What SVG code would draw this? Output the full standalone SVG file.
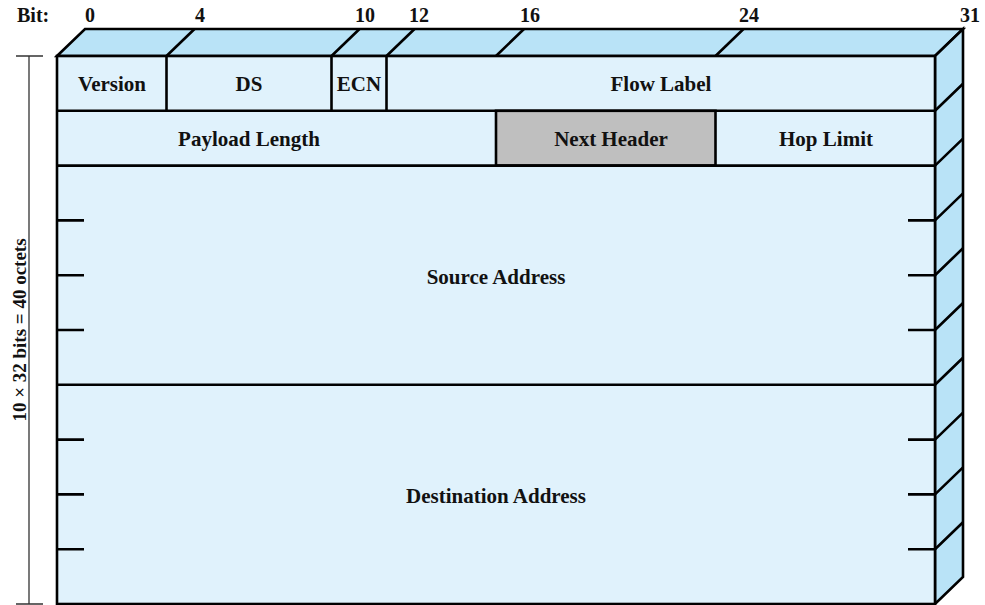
<svg xmlns="http://www.w3.org/2000/svg" width="985" height="605" viewBox="0 0 985 605">
<style>
.face{fill:#b9e3f7;stroke:#000;stroke-width:2.6;stroke-linejoin:miter}
.front{fill:#e0f2fc;stroke:#000;stroke-width:2.6}
.ln{stroke:#000;stroke-width:2.6;fill:none}
.gray{fill:#bfbfbf;stroke:#000;stroke-width:2.6}
.dim{stroke:#333;stroke-width:1.3;fill:none}
text{font-family:"Liberation Serif","Times New Roman",serif;font-weight:bold;font-size:21px;fill:#111}
.c{text-anchor:middle}
</style>
<rect width="985" height="605" fill="#fff"/>
<g id="bit-labels">
<text x="17" y="22" style="font-size:20px">Bit:</text>
<text x="85" y="22" style="font-size:20px">0</text>
<text x="195" y="22" style="font-size:20px">4</text>
<text x="355" y="22" style="font-size:20px">10</text>
<text x="409" y="22" style="font-size:20px">12</text>
<text x="520" y="22" style="font-size:20px">16</text>
<text x="739" y="22" style="font-size:20px">24</text>
<text x="960" y="22" style="font-size:20px">31</text>
</g>
<g id="top-face">
<polygon class="face" points="57,56 85,29 963,29 935,56"/>
<path class="ln" d="M166.5,56 L194.5,29 M331.5,56 L359.5,29 M386.5,56 L414.5,29 M496,56 L524,29 M715.5,56 L743.5,29"/>
</g>
<g id="side-face">
<polygon class="face" points="935,56 963,29 963,577 935,604"/>
<path class="ln" d="M935,110.8 l28,-27 M935,165.6 l28,-27 M935,220.4 l28,-27 M935,275.2 l28,-27 M935,330 l28,-27 M935,384.8 l28,-27 M935,439.6 l28,-27 M935,494.4 l28,-27 M935,549.2 l28,-27"/>
</g>
<g id="front-face">
<rect class="front" x="57" y="56" width="878" height="548"/>
</g>
<g id="version"><text class="c" x="112" y="91">Version</text></g>
<g id="ds"><path class="ln" d="M166.5,56 V110.8"/><text class="c" x="249" y="91">DS</text></g>
<g id="ecn"><path class="ln" d="M331.5,56 V110.8 M386.5,56 V110.8"/><text class="c" x="359" y="91">ECN</text></g>
<g id="flow-label"><text class="c" x="661" y="91">Flow Label</text></g>
<g id="payload-length"><path class="ln" d="M57,110.8 H935"/><text class="c" x="249" y="146">Payload Length</text></g>
<g id="next-header"><rect class="gray" x="496" y="110.8" width="219.5" height="54.8"/><text class="c" x="611" y="146">Next Header</text></g>
<g id="hop-limit"><text class="c" x="826" y="146">Hop Limit</text></g>
<g id="source-address"><path class="ln" d="M57,165.6 H935"/>
<path class="ln" d="M57,220.4 h27 M57,275.2 h27 M57,330 h27 M908,220.4 h27 M908,275.2 h27 M908,330 h27"/>
<text class="c" x="496" y="284">Source Address</text></g>
<g id="destination-address"><path class="ln" d="M57,384.8 H935"/>
<path class="ln" d="M57,439.6 h27 M57,494.4 h27 M57,549.2 h27 M908,439.6 h27 M908,494.4 h27 M908,549.2 h27"/>
<text class="c" x="496" y="503">Destination Address</text></g>
<g id="connectors">
<path class="dim" d="M29,56 V604 M16,56 H43 M16,604 H43"/>
<text class="c" transform="translate(25.5,330) rotate(-90)" x="0" y="0" style="font-size:19px">10 × 32 bits = 40 octets</text>
</g>
</svg>
